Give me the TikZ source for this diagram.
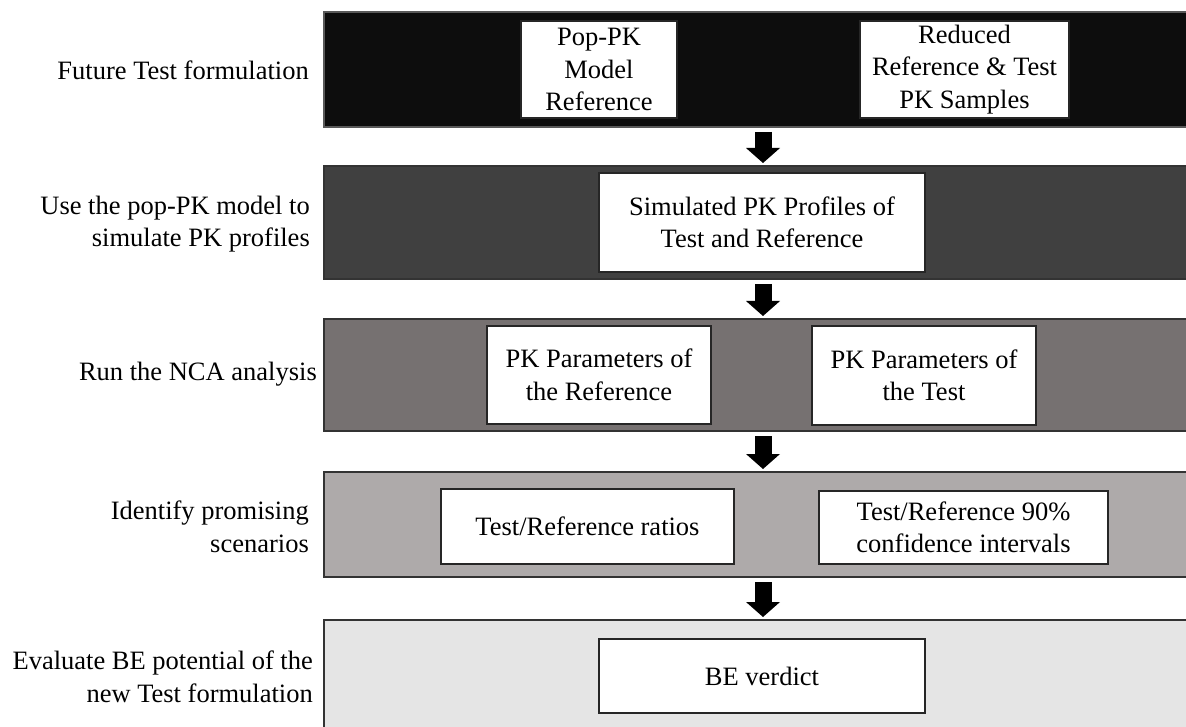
\documentclass[tikz,border=0pt]{standalone}
\usepackage{fontspec}
\setmainfont{Liberation Serif}
\usetikzlibrary{arrows.meta}
\definecolor{bandA}{HTML}{0D0D0D}
\definecolor{bandB}{HTML}{404040}
\definecolor{bandC}{HTML}{767171}
\definecolor{bandD}{HTML}{AEAAAA}
\definecolor{bandE}{HTML}{E5E5E5}
\begin{document}
\begin{tikzpicture}[x=1pt,y=-1pt,
  band/.style={draw=black!80,line width=1.3pt},
  wbox/.style={draw=black!85,fill=white,line width=1.3pt,inner sep=0pt,align=center,
     font=\fontsize{26.5}{32.5}\selectfont},
  lab/.style={anchor=east,align=right,inner sep=0pt,font=\fontsize{26.5}{32.5}\selectfont},
  bigarrow/.style={line width=17pt,draw=black,
     -{Triangle[width=34pt,length=15pt,line width=0pt]},shorten <=5pt,shorten >=3pt}]
\clip (0,0) rectangle (1186,727);
\fill[white] (0,0) rectangle (1186,727);
% bands
\draw[band,fill=bandA,draw=black!65] (324,12) rectangle (1200,127);
\draw[band,fill=bandB] (324,166) rectangle (1200,279);
\draw[band,fill=bandC] (324,319) rectangle (1200,431);
\draw[band,fill=bandD] (324,472) rectangle (1200,577);
\draw[band,fill=bandE] (324,620) rectangle (1200,745);
\coordinate (t1) at (763,127);
\coordinate (h2) at (763,166);
\coordinate (t2) at (763,279);
\coordinate (h3) at (763,319);
\coordinate (t3) at (763,431);
\coordinate (h4) at (763,472);
\coordinate (t4) at (763,577);
\coordinate (h5) at (763,620);
% boxes
\node[wbox,minimum width=156pt,minimum height=97pt] (popk) at (599,69.5) {Pop-PK\\Model\\Reference};
\node[wbox,minimum width=209pt,minimum height=97pt] (red) at (964.5,69.5) {Reduced\\Reference \& Test\\PK Samples};
\node[wbox,minimum width=326pt,minimum height=99pt] (sim) at (762,222.5) {Simulated PK Profiles of\\Test and Reference};
\node[wbox,minimum width=224pt,minimum height=98pt] (pkref) at (599,375) {PK Parameters of\\the Reference};
\node[wbox,minimum width=224pt,minimum height=99pt] (pktest) at (924,375.5) {PK Parameters of\\the Test};
\node[wbox,minimum width=293pt,minimum height=75pt] (ratio) at (587.5,526.5) {Test/Reference ratios};
\node[wbox,minimum width=289pt,minimum height=73pt] (ci) at (963.5,527.5) {Test/Reference 90\%\\confidence intervals};
\node[wbox,minimum width=326pt,minimum height=74pt] (be) at (762,676) {BE verdict};
% labels
\node[lab] (l1) at (309,70) {Future Test formulation};
\node[lab] (l2) at (310,224) {Use the pop-PK model to\\simulate PK profiles};
\node[lab] (l3) at (317,374) {Run the NCA analysis};
\node[lab] (l4) at (309,527) {Identify promising\\scenarios};
\node[lab] (l5) at (313,677) {Evaluate BE potential of the\\new Test formulation};
% arrows
\draw[bigarrow] (t1) -- (h2);
\draw[bigarrow] (t2) -- (h3);
\draw[bigarrow] (t3) -- (h4);
\draw[bigarrow] (t4) -- (h5);
\end{tikzpicture}
\end{document}
